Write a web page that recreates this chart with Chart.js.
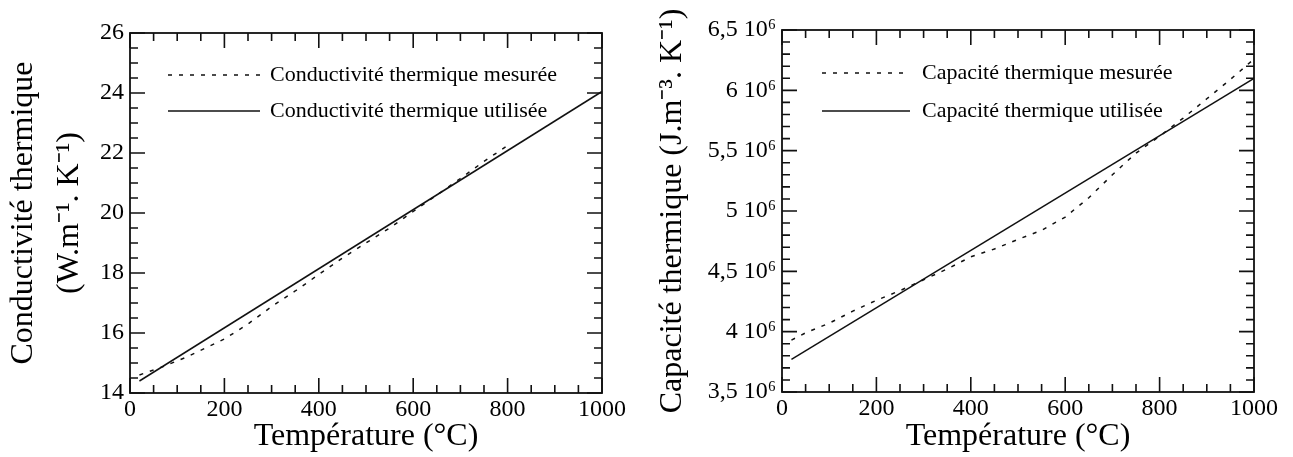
<!DOCTYPE html>
<html><head><meta charset="utf-8">
<script src="https://cdn.jsdelivr.net/npm/chart.js@4/dist/chart.umd.min.js"></script>
<style>
html,body{margin:0;padding:0;background:#fff;}
#wrap{position:relative;width:1293px;height:457px;overflow:hidden;}
canvas{position:absolute;top:0;}
</style></head>
<body><div id="wrap">
<canvas id="c1" width="640" height="457" style="left:0px"></canvas>
<canvas id="c2" width="653" height="457" style="left:640px"></canvas>
</div>
<script>
// ---------- data (left: conductivity) ----------
const tempMesK  = [20, 70, 120, 160, 200, 250, 300, 350, 400, 450, 500, 550, 600, 650, 700, 750, 800];
const kMesuree  = [14.6, 14.88, 15.2, 15.5, 15.8, 16.3, 16.88, 17.4, 17.95, 18.5, 19.0, 19.5, 20.05, 20.6, 21.15, 21.72, 22.25];
const tempUtilK = [20, 1000];
const kUtilisee = [14.4, 24.05];
// ---------- data (right: heat capacity) ----------
const tempMesC  = [20, 50, 100, 150, 200, 250, 300, 350, 400, 450, 500, 550, 600, 650, 700, 750, 800, 850, 900, 950, 1000];
const cMesuree  = [3930000, 3990000, 4070000, 4170000, 4260000, 4340000, 4430000, 4520000, 4620000, 4685000, 4765000, 4840000, 4950000, 5110000, 5300000, 5480000, 5620000, 5770000, 5930000, 6090000, 6260000];
const tempUtilC = [20, 1000];
const cUtilisee = [3770000, 6100000];
// ---------- ticks ----------
const tempTicks  = [0, 200, 400, 600, 800, 1000];
const tempMinor  = [50, 100, 150, 250, 300, 350, 450, 500, 550, 650, 700, 750, 850, 900, 950];
const kTicks     = [14, 16, 18, 20, 22, 24, 26];
const kMinor     = [14.5, 15, 15.5, 16.5, 17, 17.5, 18.5, 19, 19.5, 20.5, 21, 21.5, 22.5, 23, 23.5, 24.5, 25, 25.5];
const cTicks     = [3500000, 4000000, 4500000, 5000000, 5500000, 6000000, 6500000];
const cMinor     = [3600000, 3700000, 3800000, 3900000, 4100000, 4200000, 4300000, 4400000, 4600000, 4700000, 4800000, 4900000, 5100000, 5200000, 5300000, 5400000, 5600000, 5700000, 5800000, 5900000, 6100000, 6200000, 6300000, 6400000];
const labelsK = ['Conductivité thermique mesurée', 'Conductivité thermique utilisée'];
const labelsC = ['Capacité thermique mesurée', 'Capacité thermique utilisée'];
const xTitle = 'Température (°C)';
const yTitleK = ['Conductivité thermique', '(W.m\u207B\u00B9. K\u207B\u00B9)'];
const yTitleC = 'Capacité thermique (J.m\u207B\u00B3. K\u207B\u00B9)';

const FONT = "'Liberation Serif', 'Times New Roman', serif";
Chart.defaults.font.family = FONT;
Chart.defaults.color = '#000';

const pts = (xs, ys) => xs.map((x, i) => ({x: x, y: ys[i]}));

// frame + inward tick marks, positioned through the chart scales
const framePlugin = {
  id: 'frame',
  afterDatasetsDraw(chart, args, o) {
    const {ctx, chartArea: a} = chart;
    const sx = chart.scales.x, sy = chart.scales.y;
    ctx.save();
    ctx.strokeStyle = '#111';
    ctx.lineWidth = 1.6;
    ctx.beginPath();
    const draw = (vals, len) => {
      vals.forEach(v => {
        const px = sx.getPixelForValue(v);
        ctx.moveTo(px, a.bottom); ctx.lineTo(px, a.bottom - len);
        ctx.moveTo(px, a.top); ctx.lineTo(px, a.top + len);
      });
    };
    const drawY = (vals, len) => {
      vals.forEach(v => {
        const py = sy.getPixelForValue(v);
        ctx.moveTo(a.left, py); ctx.lineTo(a.left + len, py);
        ctx.moveTo(a.right, py); ctx.lineTo(a.right - len, py);
      });
    };
    draw(o.xMajor, 15); draw(o.xMinor, 8);
    drawY(o.yMajor, 15); drawY(o.yMinor, 8);
    ctx.stroke();
    ctx.lineWidth = 1.8;
    ctx.strokeRect(a.left, a.top, a.right - a.left, a.bottom - a.top);
    ctx.restore();
  }
};

// legend drawn inside the plot area from the dataset definitions
const innerLegend = {
  id: 'innerLegend',
  afterDraw(chart, args, o) {
    const {ctx, chartArea: a} = chart;
    ctx.save();
    ctx.font = o.fontSize + 'px ' + FONT;
    ctx.textBaseline = 'middle';
    ctx.fillStyle = '#000';
    chart.data.datasets.forEach((ds, i) => {
      const y = a.top + o.top + i * o.row;
      const x0 = a.left + o.left;
      ctx.strokeStyle = ds.borderColor;
      ctx.lineWidth = ds.borderWidth;
      ctx.setLineDash(ds.borderDash || []);
      ctx.beginPath(); ctx.moveTo(x0, y); ctx.lineTo(x0 + o.len, y); ctx.stroke();
      ctx.setLineDash([]);
      ctx.fillText(ds.label, x0 + o.len + o.gap, y);
    });
    ctx.restore();
  }
};

function makeChart(id, cfg) {
  return new Chart(document.getElementById(id), {
    type: 'line',
    data: {
      datasets: [
        {label: cfg.labels[0], data: cfg.mes, borderColor: '#111', borderWidth: 1.5, borderDash: [4, 7], pointRadius: 0, tension: 0, fill: false},
        {label: cfg.labels[1], data: cfg.util, borderColor: '#111', borderWidth: 1.5, pointRadius: 0, tension: 0, fill: false}
      ]
    },
    options: {
      responsive: false,
      animation: false,
      devicePixelRatio: 1,
      layout: {padding: {left: 0, top: cfg.padTop, right: cfg.padRight, bottom: 0}},
      plugins: {
        legend: {display: false},
        tooltip: {enabled: false},
        frame: {xMajor: tempTicks, xMinor: tempMinor, yMajor: cfg.yTicks, yMinor: cfg.yMinor},
        innerLegend: cfg.legend
      },
      scales: {
        x: {
          type: 'linear', min: 0, max: 1000,
          afterBuildTicks: s => { s.ticks = tempTicks.map(v => ({value: v})); },
          afterFit: s => { s.height = cfg.xH; },
          grid: {display: false, drawTicks: false},
          border: {display: false},
          ticks: {font: {size: 24}, color: '#000', padding: 2, maxRotation: 0, autoSkip: false, callback: v => String(v)},
          title: {display: true, text: xTitle, font: {size: 32}, color: '#000', padding: {top: 0, bottom: 1}}
        },
        y: {
          type: 'linear', min: cfg.yMin, max: cfg.yMax,
          afterBuildTicks: s => { s.ticks = cfg.yTicks.map(v => ({value: v})); },
          afterFit: s => { s.width = cfg.yW; },
          grid: {display: false, drawTicks: false},
          border: {display: false},
          ticks: {font: {size: 24}, color: '#000', padding: 6, autoSkip: false, callback: cfg.fmt},
          title: {display: true, text: cfg.yTitle, font: {size: 32, lineHeight: cfg.yLH}, color: '#000', padding: {top: cfg.yTitlePad, bottom: 0}}
        }
      }
    },
    plugins: [framePlugin, innerLegend]
  });
}

makeChart('c1', {
  labels: labelsK,
  mes: pts(tempMesK, kMesuree),
  util: pts(tempUtilK, kUtilisee),
  yMin: 14, yMax: 26, yTicks: kTicks, yMinor: kMinor,
  fmt: v => String(v),
  yTitle: yTitleK, yLH: 1.45, yTitlePad: 0,
  padTop: 33, padRight: 38, xH: 64, yW: 130,
  legend: {left: 38, top: 42, row: 36, len: 92, gap: 10, fontSize: 22}
});

makeChart('c2', {
  labels: labelsC,
  mes: pts(tempMesC, cMesuree),
  util: pts(tempUtilC, cUtilisee),
  yMin: 3500000, yMax: 6500000, yTicks: cTicks, yMinor: cMinor,
  fmt: v => String(v / 1e6).replace('.', ',') + ' 10\u2076',
  yTitle: yTitleC, yLH: 1.2, yTitlePad: 13,
  padTop: 30, padRight: 39, xH: 65, yW: 142,
  legend: {left: 40, top: 43, row: 38, len: 88, gap: 12, fontSize: 22}
});
</script>
</body></html>
